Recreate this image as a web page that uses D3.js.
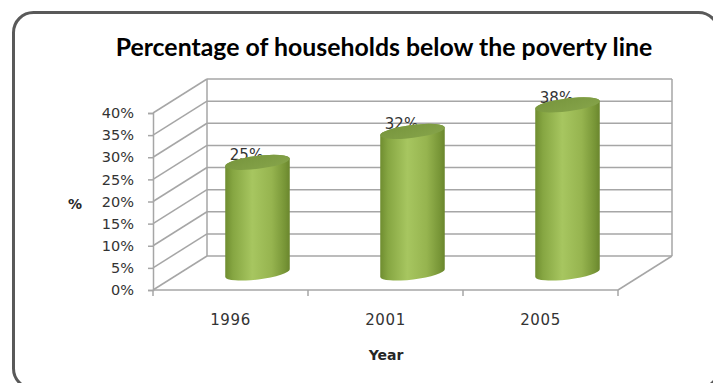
<!DOCTYPE html>
<html>
<head>
<meta charset="utf-8">
<script src="https://cdn.jsdelivr.net/npm/d3@7"></script>
<style>
  body { margin: 0; background: #fff; }
  svg { display: block; }
</style>
</head>
<body>
<div class="chart"></div>
<script>
// data
var years = ["1996", "2001", "2005"];
var poverty = [25, 32, 38];
var yTicks = [0, 5, 10, 15, 20, 25, 30, 35, 40];

var w = 713, h = 383;
// 3D depth of the plot box (oblique projection)
var dx = 54, dy = -34;

var svg = d3.select(".chart").append("svg")
    .attr("width", w).attr("height", h);

// outer rounded frame
svg.append("rect")
    .attr("x", 13.5).attr("y", 12.5)
    .attr("width", 705).attr("height", 376)
    .attr("rx", 20)
    .attr("fill", "#fff")
    .attr("stroke", "#595959")
    .attr("stroke-width", 3);

var x = d3.scaleBand().domain(years).range([153, 618]);
var y = d3.scaleLinear().domain([0, 40]).range([290, 113]);

var grid = "#a6a6a6";
var g = svg.append("g");

// back wall grid lines
g.selectAll(".bgrid").data(yTicks).enter().append("line")
    .attr("x1", x.range()[0] + dx).attr("x2", x.range()[1] + dx)
    .attr("y1", function(d) { return y(d) + dy; })
    .attr("y2", function(d) { return y(d) + dy; })
    .attr("stroke", grid).attr("stroke-width", 1.5);
// side wall grid lines
g.selectAll(".sgrid").data(yTicks).enter().append("line")
    .attr("x1", x.range()[0]).attr("x2", x.range()[0] + dx)
    .attr("y1", function(d) { return y(d); })
    .attr("y2", function(d) { return y(d) + dy; })
    .attr("stroke", grid).attr("stroke-width", 1.5);
// back wall verticals
[x.range()[0] + dx, x.range()[1] + dx].forEach(function(xx) {
    g.append("line")
        .attr("x1", xx).attr("x2", xx)
        .attr("y1", y(40) + dy).attr("y2", y(0) + dy)
        .attr("stroke", grid).attr("stroke-width", 1.5);
});
// floor right edge
g.append("line")
    .attr("x1", x.range()[1]).attr("y1", y(0))
    .attr("x2", x.range()[1] + dx).attr("y2", y(0) + dy)
    .attr("stroke", grid).attr("stroke-width", 1.5);

// front y axis
var yAxis = g.append("g")
    .attr("transform", "translate(" + x.range()[0] + ",0)")
    .call(d3.axisLeft(y).tickValues(yTicks).tickSize(5).tickPadding(14)
        .tickFormat(function(d) { return d + "%"; }));
yAxis.select(".domain").attr("stroke", grid).attr("stroke-width", 1.5);
yAxis.selectAll(".tick line").attr("stroke", grid).attr("stroke-width", 1.5);
yAxis.selectAll(".tick text")
    .attr("font-family", "DejaVu Sans, Verdana, sans-serif")
    .attr("font-size", "14.5px").attr("fill", "#333");

// front x axis
g.append("line")
    .attr("x1", x.range()[0]).attr("x2", x.range()[1])
    .attr("y1", y(0)).attr("y2", y(0))
    .attr("stroke", grid).attr("stroke-width", 1.5);
var bounds = years.map(function(d) { return x(d); }).concat([x.range()[1]]);
g.selectAll(".xtick").data(bounds).enter().append("line")
    .attr("x1", function(d) { return d; }).attr("x2", function(d) { return d; })
    .attr("y1", y(0)).attr("y2", y(0) + 6)
    .attr("stroke", grid).attr("stroke-width", 1.5);
var xAxis = g.append("g")
    .attr("transform", "translate(0," + y(0) + ")")
    .call(d3.axisBottom(x).tickSize(0).tickPadding(24));
xAxis.select(".domain").remove();
xAxis.selectAll(".tick text")
    .attr("font-family", "DejaVu Sans, Verdana, sans-serif")
    .attr("font-size", "15px").attr("letter-spacing", "0.6px")
    .attr("fill", "#333");

// cylinder gradients
var defs = svg.append("defs");
var body = defs.append("linearGradient").attr("id", "body")
    .attr("x1", "0%").attr("x2", "100%").attr("y1", "0%").attr("y2", "0%");
[["0%", "#6f8d30"], ["12%", "#86a642"], ["42%", "#a7c660"], ["72%", "#96b44f"], ["92%", "#789637"], ["100%", "#6a862d"]]
    .forEach(function(s) { body.append("stop").attr("offset", s[0]).attr("stop-color", s[1]); });
var top_ = defs.append("linearGradient").attr("id", "top")
    .attr("x1", "0%").attr("x2", "100%").attr("y1", "0%").attr("y2", "100%");
[["0%", "#77953d"], ["100%", "#86a44a"]]
    .forEach(function(s) { top_.append("stop").attr("offset", s[0]).attr("stop-color", s[1]); });

var rx = 32.5, ry = 6.5, rot = -7;
var rad = rot * Math.PI / 180;
var ex = rx * Math.cos(rad), ey = rx * Math.sin(rad);

var bars = g.selectAll(".bar").data(poverty).enter().append("g");
bars.append("path")
    .attr("d", function(d, i) {
        var cx = x(years[i]) + x.bandwidth() / 2 + dx / 2;
        var yb = y(0) + dy / 2, yt = y(d) + dy / 2;
        return "M" + (cx - ex) + "," + (yt - ey) +
            "L" + (cx - ex) + "," + (yb - ey) +
            "A" + rx + "," + ry + " " + rot + " 0 0 " + (cx + ex) + "," + (yb + ey) +
            "L" + (cx + ex) + "," + (yt + ey) +
            "A" + rx + "," + ry + " " + rot + " 0 0 " + (cx - ex) + "," + (yt - ey) + "Z";
    })
    .attr("fill", "url(#body)");
bars.append("ellipse")
    .attr("cx", 0).attr("cy", 0)
    .attr("rx", rx).attr("ry", ry)
    .attr("transform", function(d, i) {
        var cx = x(years[i]) + x.bandwidth() / 2 + dx / 2;
        return "translate(" + cx + "," + (y(d) + dy / 2) + ") rotate(" + rot + ")";
    })
    .attr("fill", "url(#top)");

// data labels (drawn under the cylinder top like the original)
g.selectAll(".lbl").data(poverty).enter().insert("text", "g")
    .attr("x", function(d, i) { return x(years[i]) + x.bandwidth() / 2 + dx / 2 - 11; })
    .attr("y", function(d) { return y(d) + dy / 2 - 2; })
    .attr("text-anchor", "middle")
    .attr("font-family", "DejaVu Sans, Verdana, sans-serif")
    .attr("font-size", "15px").attr("fill", "#333")
    .text(function(d) { return d + "%"; });

// titles
var title = svg.append("text")
    .attr("x", 384).attr("y", 56)
    .attr("text-anchor", "middle")
    .attr("font-family", "Lato, 'Open Sans', sans-serif")
    .attr("font-weight", "bold").attr("font-size", "20px")
    .attr("fill", "#000")
    .text("Percentage of households below the poverty line");
var tw = title.node().getComputedTextLength();
title.attr("font-size", (20 * 537 / tw) + "px");

svg.append("text")
    .attr("x", 75).attr("y", 209)
    .attr("text-anchor", "middle")
    .attr("font-family", "DejaVu Sans, Verdana, sans-serif")
    .attr("font-weight", "bold").attr("font-size", "14px")
    .attr("fill", "#262626")
    .text("%");
svg.append("text")
    .attr("x", 386).attr("y", 360)
    .attr("text-anchor", "middle")
    .attr("font-family", "DejaVu Sans, Verdana, sans-serif")
    .attr("font-weight", "bold").attr("font-size", "14px")
    .attr("fill", "#262626")
    .text("Year");
</script>
</body>
</html>
